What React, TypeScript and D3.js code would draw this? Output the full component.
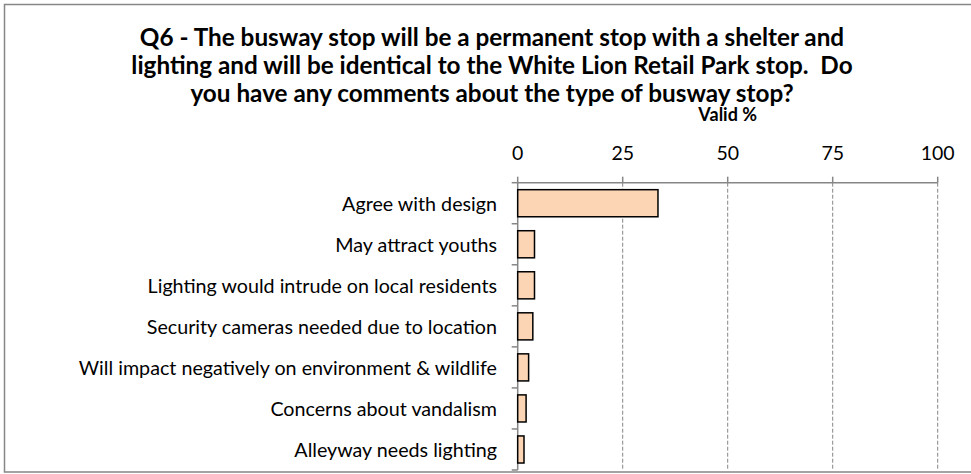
import React from "react";
import * as d3 from "d3";

const titleLines = [
  "Q6 - The busway stop will be a permanent stop with a shelter and",
  "lighting and will be identical to the White Lion Retail Park stop.  Do",
  "you have any comments about the type of busway stop?",
];
const axisTitle = "Valid %";
const categories = [
  "Agree with design",
  "May attract youths",
  "Lighting would intrude on local residents",
  "Security cameras needed due to location",
  "Will impact negatively on environment & wildlife",
  "Concerns about vandalism",
  "Alleyway needs lighting",
];
const values = [33.4, 4.0, 4.0, 3.6, 2.6, 2.0, 1.5];
const ticks = [0, 25, 50, 75, 100];

const W = 971;
const H = 474;
const FONT = "Lato, 'Open Sans', sans-serif";

export default function App() {
  const left = 517.7;
  const right = 937.7;
  const top = 182.7;
  const bottom = 470;
  const x = d3.scaleLinear().domain([0, 100]).range([left, right]);
  const y = d3.scaleBand<string>().domain(categories).range([top, bottom]).paddingInner(0.34).paddingOuter(0.17);
  const yb = d3.scaleBand<string>().domain(categories).range([top, bottom]);
  const grid = "#868686";
  return (
    <svg width={W} height={H} style={{ position: "absolute", left: 0, top: 0, background: "#fff" }}>
      <rect x={4.5} y={4.5} width={W + 10} height={467.5} fill="#fff" stroke={grid} strokeWidth={1.5} />
      {titleLines.map((t, i) => (
        <text key={i} x={492} y={46 + i * 28} textAnchor="middle" fontFamily={FONT} fontWeight="bold" fontSize={24.3} fill="#000" style={{ whiteSpace: "pre" }}>
          {t}
        </text>
      ))}
      <text x={(left + right) / 2} y={121} textAnchor="middle" fontFamily={FONT} fontWeight="bold" fontSize={18} fill="#000">
        {axisTitle}
      </text>
      {ticks.map((t) => (
        <g key={t}>
          {t > 0 && (
            <line x1={x(t)} x2={x(t)} y1={top} y2={bottom} stroke={grid} strokeWidth={1} strokeDasharray="4,2" />
          )}
          <line x1={x(t)} x2={x(t)} y1={top - 6} y2={top} stroke={grid} strokeWidth={1.5} />
          <text x={x(t)} y={160} textAnchor="middle" fontFamily={FONT} fontSize={19.5} fill="#000">
            {t}
          </text>
        </g>
      ))}
      <line x1={left} x2={right} y1={top} y2={top} stroke={grid} strokeWidth={1.5} />
      <line x1={left} x2={left} y1={top} y2={bottom} stroke={grid} strokeWidth={1.5} />
      {categories.map((c, i) => (
        <line key={"t" + i} x1={left - 6} x2={left} y1={yb(c)!} y2={yb(c)!} stroke={grid} strokeWidth={1.5} />
      ))}
      <line x1={left - 6} x2={left} y1={bottom} y2={bottom} stroke={grid} strokeWidth={1.5} />
      {categories.map((c, i) => (
        <g key={c}>
          <rect x={x(0)} y={y(c)!} width={x(values[i]) - x(0)} height={y.bandwidth()} fill="#FCD5B5" stroke="#000" strokeWidth={1.5} />
          <text x={497} y={yb(c)! + yb.bandwidth() / 2} dy="0.38em" textAnchor="end" fontFamily={FONT} fontSize={19.7} fill="#000">
            {c}
          </text>
        </g>
      ))}
    </svg>
  );
}
